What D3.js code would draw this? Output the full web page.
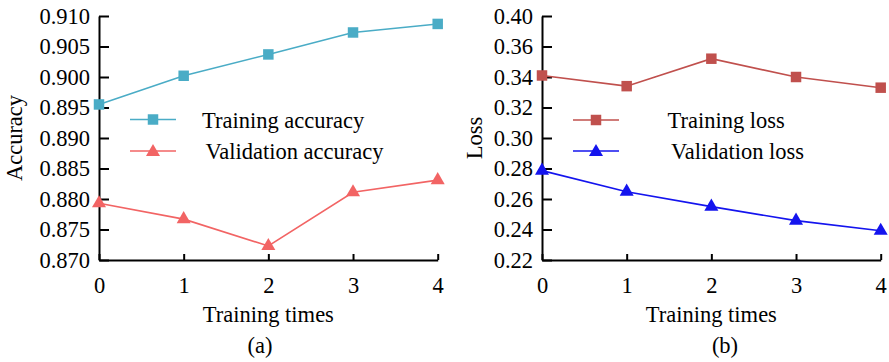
<!DOCTYPE html>
<html>
<head>
<meta charset="utf-8">
<script src="https://cdn.jsdelivr.net/npm/d3@7"></script>
<style>
  body { margin: 0; background: #fff; }
  text { font-family: "Liberation Serif", "Times New Roman", serif; fill: #000; }
</style>
</head>
<body>
<div id="chart"></div>
<script>
// data
var epochs = [0, 1, 2, 3, 4];
var trainAcc = [0.8955, 0.9002, 0.9037, 0.9073, 0.9087];
var valAcc = [0.8793, 0.8767, 0.8723, 0.8811, 0.8831];
var trainLoss = [0.341, 0.334, 0.352, 0.340, 0.333];
var valLoss = [0.2786, 0.2648, 0.2550, 0.2458, 0.2392];

var accTicks = [0.870, 0.875, 0.880, 0.885, 0.890, 0.895, 0.900, 0.905, 0.910];
var accTickLabels = ["0.870", "0.875", "0.880", "0.885", "0.890", "0.895", "0.900", "0.905", "0.910"];
// the source axis skips 0.38 and labels its top tick "0.40"
var lossTicks = [0.22, 0.24, 0.26, 0.28, 0.30, 0.32, 0.34, 0.36, 0.38];
var lossTickLabels = ["0.22", "0.24", "0.26", "0.28", "0.30", "0.32", "0.34", "0.36", "0.40"];

var W = 889, H = 362, fs = "22.5px";

var svg = d3.select("#chart").append("svg")
  .attr("width", W).attr("height", H);

// one panel: axes, two series, legend
function addPanel(opt) {
  var x = d3.scaleLinear().domain([0, 4]).range([opt.x0, opt.x1]);
  var y = d3.scaleLinear().domain([opt.ticks[0], opt.ticks[opt.ticks.length - 1]]).range([260, 16]);
  var g = svg.append("g");

  var yAxis = d3.axisLeft(y).tickValues(opt.ticks)
    .tickFormat(function(d, i) { return opt.labels[i]; })
    .tickSizeInner(-10).tickSizeOuter(0).tickPadding(9);
  var xAxis = d3.axisBottom(x).tickValues(epochs).tickFormat(d3.format("d"))
    .tickSizeInner(-6).tickSizeOuter(0).tickPadding(17);

  var ya = g.append("g").attr("transform", `translate(${opt.x0},0)`).call(yAxis);
  var xa = g.append("g").attr("transform", `translate(0,260)`).call(xAxis);
  [ya, xa].forEach(function(a) {
    a.selectAll("path").attr("stroke", "#000").attr("stroke-width", 2);
    a.selectAll("line").attr("stroke", "#000").attr("stroke-width", 2);
    a.selectAll("text").attr("font-size", fs).attr("font-family", null).attr("fill", "#000");
  });

  var line = d3.line().x(function(d, i) { return x(epochs[i]); }).y(function(d) { return y(d); });

  opt.series.forEach(function(s, k) {
    g.append("path").datum(s.values)
      .attr("d", line).attr("fill", "none")
      .attr("stroke", s.color).attr("stroke-width", 1.6);
    var sym = d3.symbol().type(s.shape).size(s.shape === d3.symbolSquare ? 110 : 85);
    g.selectAll(null).data(s.values).enter().append("path")
      .attr("d", sym)
      .attr("transform", function(d, i) { return `translate(${x(epochs[i])},${y(d)})`; })
      .attr("fill", s.color);

    // legend row
    var ly = opt.legendY[k];
    g.append("line")
      .attr("x1", opt.legendX).attr("x2", opt.legendX + 46)
      .attr("y1", ly).attr("y2", ly)
      .attr("stroke", s.color).attr("stroke-width", 1.6);
    g.append("path").attr("d", sym)
      .attr("transform", `translate(${opt.legendX + 23},${ly + (s.shape === d3.symbolSquare ? 0 : 1)})`)
      .attr("fill", s.color);
    g.append("text")
      .attr("x", opt.textX[k]).attr("y", ly + 8)
      .attr("font-size", fs)
      .text(s.name);
  });

  g.append("text")
    .attr("x", (opt.x0 + opt.x1) / 2).attr("y", 322)
    .attr("text-anchor", "middle").attr("font-size", fs)
    .text("Training times");
  g.append("text")
    .attr("transform", `translate(${opt.titleX},138) rotate(-90)`)
    .attr("text-anchor", "middle").attr("font-size", fs)
    .text(opt.yTitle);
  g.append("text")
    .attr("x", opt.tagX).attr("y", 353)
    .attr("text-anchor", "middle").attr("font-size", fs)
    .text(opt.tag);
}

addPanel({
  x0: 99, x1: 437.7, ticks: accTicks, labels: accTickLabels,
  yTitle: "Accuracy", titleX: 22, tag: "(a)", tagX: 260,
  legendX: 130, legendY: [119.5, 151], textX: [202, 205.5],
  series: [
    {name: "Training accuracy", values: trainAcc, color: "#4aacc6", shape: d3.symbolSquare},
    {name: "Validation accuracy", values: valAcc, color: "#f26464", shape: d3.symbolTriangle}
  ]
});

addPanel({
  x0: 542, x1: 880.7, ticks: lossTicks, labels: lossTickLabels,
  yTitle: "Loss", titleX: 482, tag: "(b)", tagX: 725,
  legendX: 573, legendY: [120, 151], textX: [667.5, 671],
  series: [
    {name: "Training loss", values: trainLoss, color: "#c0504d", shape: d3.symbolSquare},
    {name: "Validation loss", values: valLoss, color: "#1414ee", shape: d3.symbolTriangle}
  ]
});
</script>
</body>
</html>
